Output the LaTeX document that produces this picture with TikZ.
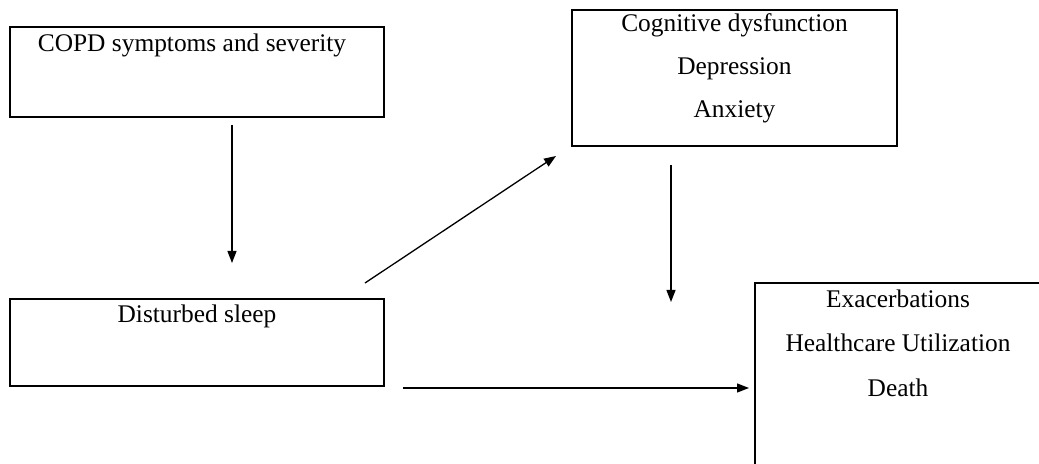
\documentclass[tikz,border=0pt]{standalone}
\usepackage{fontspec}
\setmainfont{Liberation Serif}
\usetikzlibrary{arrows.meta}
\begin{document}
\begin{tikzpicture}[x=0.5pt,y=-0.5pt,
  boxstyle/.style={draw=black,line width=0.9pt},
  lbl/.style={anchor=base,inner sep=0pt,font=\fontsize{12.7pt}{15pt}\selectfont},
  arr/.style={line width=0.65pt,-{Triangle[length=6pt,width=4.5pt]}}]
\useasboundingbox (0,0) rectangle (1039,464);
\begin{scope}
\clip (0,0) rectangle (1039,464);
% boxes
\draw[boxstyle] (10,27) rectangle (384,117);
\draw[boxstyle] (572,10) rectangle (897,146);
\draw[boxstyle] (10,299) rectangle (384,386);
\draw[boxstyle] (755,283) rectangle (1040,480);
\end{scope}
% labels
\node[lbl] (copd) at (192,52) {COPD symptoms and severity};
\node[lbl] (cog) at (734.5,32) {Cognitive dysfunction};
\node[lbl] (dep) at (734.5,75) {Depression};
\node[lbl] (anx) at (734.5,118) {Anxiety};
\node[lbl] (sleep) at (197,323) {Disturbed sleep};
\node[lbl] (exa) at (898,308) {Exacerbations};
\node[lbl] (hcu) at (898,352) {Healthcare Utilization};
\node[lbl] (death) at (898,397) {Death};
% arrow end points
\coordinate (a1s) at (232,125);
\coordinate (a1e) at (232,263);
\coordinate (a2s) at (365,283);
\coordinate (a2e) at (556,156);
\coordinate (a3s) at (671,165);
\coordinate (a3e) at (671,302);
\coordinate (a4s) at (403,388);
\coordinate (a4e) at (749,388);
\draw[arr] (a1s) -- (a1e);
\draw[arr] (a2s) -- (a2e);
\draw[arr] (a3s) -- (a3e);
\draw[arr] (a4s) -- (a4e);
\end{tikzpicture}
\end{document}
